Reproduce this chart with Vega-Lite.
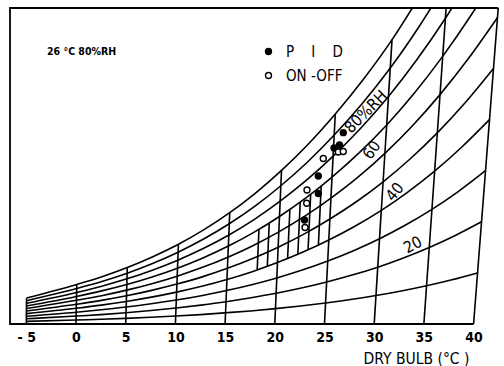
{
  "$schema": "https://vega.github.io/schema/vega-lite/v6.json",
  "width": 492,
  "height": 316,
  "autosize": {"type": "none"},
  "padding": {"left": 10, "top": 8, "right": 2, "bottom": 42},
  "background": "white",
  "config": {"view": {"stroke": null}, "font": "DejaVu Sans"},
  "datasets": {
    "curves": [
      {"c":"100","t":-5,"x":-4.98,"w":2.48},{"c":"100","t":0,"x":0.08,"w":3.78},{"c":"100","t":2.5,"x":2.61,"w":4.52},{"c":"100","t":5,"x":5.16,"w":5.40},{"c":"100","t":7.5,"x":7.73,"w":6.44},{"c":"100","t":10,"x":10.31,"w":7.63},{"c":"100","t":12.5,"x":12.88,"w":9.03},{"c":"100","t":15,"x":15.47,"w":10.65},{"c":"100","t":17.5,"x":18.06,"w":12.53},{"c":"100","t":20,"x":20.68,"w":14.70},{"c":"100","t":22.5,"x":23.36,"w":17.20},{"c":"100","t":25,"x":26.09,"w":20.09},{"c":"100","t":27.5,"x":28.90,"w":23.39},{"c":"100","t":30,"x":31.80,"w":27.21},{"c":"100","t":32.5,"x":34.71,"w":31.58},
      {"c":"90","t":-5,"x":-4.98,"w":2.23},{"c":"90","t":0,"x":0.07,"w":3.40},{"c":"90","t":2.5,"x":2.60,"w":4.07},{"c":"90","t":5,"x":5.15,"w":4.86},{"c":"90","t":7.5,"x":7.70,"w":5.79},{"c":"90","t":10,"x":10.27,"w":6.87},{"c":"90","t":12.5,"x":12.84,"w":8.13},{"c":"90","t":15,"x":15.42,"w":9.59},{"c":"90","t":17.5,"x":18.01,"w":11.28},{"c":"90","t":20,"x":20.61,"w":13.23},{"c":"90","t":22.5,"x":23.27,"w":15.48},{"c":"90","t":25,"x":25.98,"w":18.08},{"c":"90","t":27.5,"x":28.76,"w":21.05},{"c":"90","t":30,"x":31.62,"w":24.49},{"c":"90","t":32.5,"x":34.49,"w":28.42},{"c":"90","t":35,"x":37.44,"w":32.92},
      {"c":"80","t":-5,"x":-4.98,"w":1.98},{"c":"80","t":0,"x":0.06,"w":3.02},{"c":"80","t":2.5,"x":2.59,"w":3.62},{"c":"80","t":5,"x":5.13,"w":4.32},{"c":"80","t":7.5,"x":7.68,"w":5.15},{"c":"80","t":10,"x":10.24,"w":6.11},{"c":"80","t":12.5,"x":12.80,"w":7.22},{"c":"80","t":15,"x":15.38,"w":8.52},{"c":"80","t":17.5,"x":17.95,"w":10.02},{"c":"80","t":20,"x":20.54,"w":11.76},{"c":"80","t":22.5,"x":23.19,"w":13.76},{"c":"80","t":25,"x":25.87,"w":16.07},{"c":"80","t":27.5,"x":28.62,"w":18.71},{"c":"80","t":30,"x":31.44,"w":21.77},{"c":"80","t":32.5,"x":34.27,"w":25.26},{"c":"80","t":35,"x":37.17,"w":29.26},{"c":"80","t":37.5,"x":40.14,"w":33.87},
      {"c":"70","t":-5,"x":-4.98,"w":1.73},{"c":"70","t":0,"x":0.05,"w":2.64},{"c":"70","t":2.5,"x":2.58,"w":3.17},{"c":"70","t":5,"x":5.11,"w":3.78},{"c":"70","t":7.5,"x":7.66,"w":4.50},{"c":"70","t":10,"x":10.21,"w":5.34},{"c":"70","t":12.5,"x":12.77,"w":6.32},{"c":"70","t":15,"x":15.33,"w":7.46},{"c":"70","t":17.5,"x":17.89,"w":8.77},{"c":"70","t":20,"x":20.47,"w":10.29},{"c":"70","t":22.5,"x":23.10,"w":12.04},{"c":"70","t":25,"x":25.76,"w":14.06},{"c":"70","t":27.5,"x":28.48,"w":16.37},{"c":"70","t":30,"x":31.26,"w":19.05},{"c":"70","t":32.5,"x":34.05,"w":22.11},{"c":"70","t":35,"x":36.89,"w":25.61},{"c":"70","t":37.5,"x":39.81,"w":29.64},{"c":"70","t":40,"x":42.81,"w":34.22},
      {"c":"60","t":-5,"x":-4.99,"w":1.49},{"c":"60","t":0,"x":0.05,"w":2.27},{"c":"60","t":2.5,"x":2.57,"w":2.71},{"c":"60","t":5,"x":5.10,"w":3.24},{"c":"60","t":7.5,"x":7.64,"w":3.86},{"c":"60","t":10,"x":10.18,"w":4.58},{"c":"60","t":12.5,"x":12.73,"w":5.42},{"c":"60","t":15,"x":15.28,"w":6.39},{"c":"60","t":17.5,"x":17.84,"w":7.52},{"c":"60","t":20,"x":20.41,"w":8.82},{"c":"60","t":22.5,"x":23.02,"w":10.32},{"c":"60","t":25,"x":25.65,"w":12.05},{"c":"60","t":27.5,"x":28.34,"w":14.03},{"c":"60","t":30,"x":31.08,"w":16.33},{"c":"60","t":32.5,"x":33.83,"w":18.95},{"c":"60","t":35,"x":36.62,"w":21.95},{"c":"60","t":37.5,"x":39.48,"w":25.40},{"c":"60","t":40,"x":42.41,"w":29.33},
      {"c":"50","t":-5,"x":-4.99,"w":1.24},{"c":"50","t":0,"x":0.04,"w":1.89},{"c":"50","t":2.5,"x":2.56,"w":2.26},{"c":"50","t":5,"x":5.08,"w":2.70},{"c":"50","t":7.5,"x":7.61,"w":3.22},{"c":"50","t":10,"x":10.15,"w":3.82},{"c":"50","t":12.5,"x":12.69,"w":4.51},{"c":"50","t":15,"x":15.23,"w":5.33},{"c":"50","t":17.5,"x":17.78,"w":6.27},{"c":"50","t":20,"x":20.34,"w":7.35},{"c":"50","t":22.5,"x":22.93,"w":8.60},{"c":"50","t":25,"x":25.54,"w":10.05},{"c":"50","t":27.5,"x":28.20,"w":11.70},{"c":"50","t":30,"x":30.90,"w":13.61},{"c":"50","t":32.5,"x":33.61,"w":15.79},{"c":"50","t":35,"x":36.35,"w":18.29},{"c":"50","t":37.5,"x":39.15,"w":21.17},{"c":"50","t":40,"x":42.00,"w":24.45},
      {"c":"40","t":-5,"x":-4.99,"w":0.99},{"c":"40","t":0,"x":0.03,"w":1.51},{"c":"40","t":2.5,"x":2.55,"w":1.81},{"c":"40","t":5,"x":5.06,"w":2.16},{"c":"40","t":7.5,"x":7.59,"w":2.57},{"c":"40","t":10,"x":10.12,"w":3.05},{"c":"40","t":12.5,"x":12.65,"w":3.61},{"c":"40","t":15,"x":15.19,"w":4.26},{"c":"40","t":17.5,"x":17.73,"w":5.01},{"c":"40","t":20,"x":20.27,"w":5.88},{"c":"40","t":22.5,"x":22.84,"w":6.88},{"c":"40","t":25,"x":25.43,"w":8.04},{"c":"40","t":27.5,"x":28.06,"w":9.36},{"c":"40","t":30,"x":30.72,"w":10.88},{"c":"40","t":32.5,"x":33.38,"w":12.63},{"c":"40","t":35,"x":36.08,"w":14.63},{"c":"40","t":37.5,"x":38.82,"w":16.94},{"c":"40","t":40,"x":41.60,"w":19.56},
      {"c":"30","t":-5,"x":-4.99,"w":0.74},{"c":"30","t":0,"x":0.02,"w":1.13},{"c":"30","t":2.5,"x":2.53,"w":1.36},{"c":"30","t":5,"x":5.05,"w":1.62},{"c":"30","t":7.5,"x":7.57,"w":1.93},{"c":"30","t":10,"x":10.09,"w":2.29},{"c":"30","t":12.5,"x":12.61,"w":2.71},{"c":"30","t":15,"x":15.14,"w":3.20},{"c":"30","t":17.5,"x":17.67,"w":3.76},{"c":"30","t":20,"x":20.20,"w":4.41},{"c":"30","t":22.5,"x":22.76,"w":5.16},{"c":"30","t":25,"x":25.33,"w":6.03},{"c":"30","t":27.5,"x":27.92,"w":7.02},{"c":"30","t":30,"x":30.54,"w":8.16},{"c":"30","t":32.5,"x":33.16,"w":9.47},{"c":"30","t":35,"x":35.81,"w":10.97},{"c":"30","t":37.5,"x":38.49,"w":12.70},{"c":"30","t":40,"x":41.20,"w":14.67},
      {"c":"20","t":-5,"x":-5.00,"w":0.50},{"c":"20","t":0,"x":0.02,"w":0.76},{"c":"20","t":2.5,"x":2.52,"w":0.90},{"c":"20","t":5,"x":5.03,"w":1.08},{"c":"20","t":7.5,"x":7.55,"w":1.29},{"c":"20","t":10,"x":10.06,"w":1.53},{"c":"20","t":12.5,"x":12.58,"w":1.81},{"c":"20","t":15,"x":15.09,"w":2.13},{"c":"20","t":17.5,"x":17.61,"w":2.51},{"c":"20","t":20,"x":20.14,"w":2.94},{"c":"20","t":22.5,"x":22.67,"w":3.44},{"c":"20","t":25,"x":25.22,"w":4.02},{"c":"20","t":27.5,"x":27.78,"w":4.68},{"c":"20","t":30,"x":30.36,"w":5.44},{"c":"20","t":32.5,"x":32.94,"w":6.32},{"c":"20","t":35,"x":35.54,"w":7.32},{"c":"20","t":37.5,"x":38.16,"w":8.47},{"c":"20","t":40,"x":40.80,"w":9.78},
      {"c":"10","t":-5,"x":-5.00,"w":0.25},{"c":"10","t":0,"x":0.01,"w":0.38},{"c":"10","t":2.5,"x":2.51,"w":0.45},{"c":"10","t":5,"x":5.02,"w":0.54},{"c":"10","t":7.5,"x":7.52,"w":0.64},{"c":"10","t":10,"x":10.03,"w":0.76},{"c":"10","t":12.5,"x":12.54,"w":0.90},{"c":"10","t":15,"x":15.05,"w":1.07},{"c":"10","t":17.5,"x":17.56,"w":1.25},{"c":"10","t":20,"x":20.07,"w":1.47},{"c":"10","t":22.5,"x":22.59,"w":1.72},{"c":"10","t":25,"x":25.11,"w":2.01},{"c":"10","t":27.5,"x":27.64,"w":2.34},{"c":"10","t":30,"x":30.18,"w":2.72},{"c":"10","t":32.5,"x":32.72,"w":3.16},{"c":"10","t":35,"x":35.27,"w":3.66},{"c":"10","t":37.5,"x":37.83,"w":4.23},{"c":"10","t":40,"x":40.40,"w":4.89},
      {"c":"db-5","t":0,"x":-5,"w":0},{"c":"db-5","t":1,"x":-4.975,"w":2.475},
      {"c":"db0","t":0,"x":0,"w":0},{"c":"db0","t":1,"x":0.076,"w":3.775},
      {"c":"db5","t":0,"x":5,"w":0},{"c":"db5","t":1,"x":5.162,"w":5.403},
      {"c":"db10","t":0,"x":10,"w":0},{"c":"db10","t":1,"x":10.305,"w":7.632},
      {"c":"db15","t":0,"x":15,"w":0},{"c":"db15","t":1,"x":15.469,"w":10.65},
      {"c":"db20","t":0,"x":20,"w":0},{"c":"db20","t":1,"x":20.676,"w":14.70},
      {"c":"db25","t":0,"x":25,"w":0},{"c":"db25","t":1,"x":26.085,"w":20.09},
      {"c":"db30","t":0,"x":30,"w":0},{"c":"db30","t":1,"x":31.796,"w":27.21},
      {"c":"db35","t":0,"x":35,"w":0},{"c":"db35","t":1,"x":37.707,"w":36.58},
      {"c":"db40","t":0,"x":40,"w":0},{"c":"db40","t":1,"x":44.009,"w":48.89},
      {"c":"g18","t":0,"x":18.23,"w":5.18},{"c":"g18","t":1,"x":18.41,"w":9.06},
      {"c":"g19","t":0,"x":19.25,"w":5.52},{"c":"g19","t":1,"x":19.44,"w":9.65},
      {"c":"g21","t":0,"x":21.29,"w":6.26},{"c":"g21","t":1,"x":21.52,"w":10.96},
      {"c":"g22","t":0,"x":22.32,"w":6.67},{"c":"g22","t":1,"x":22.56,"w":11.68},
      {"c":"g23","t":0,"x":23.35,"w":7.10},{"c":"g23","t":1,"x":23.61,"w":12.43},
      {"c":"g24","t":0,"x":24.39,"w":7.55},{"c":"g24","t":1,"x":24.67,"w":13.22}
    ],
    "frame": [
      {"o":0,"x":40,"w":0},{"o":1,"x":-6.64,"w":0},{"o":2,"x":-6.64,"w":30.24},{"o":3,"x":42.48,"w":30.24}
    ],
    "obs": [
      {"ctrl":"PID","x":22.99,"w":9.95},{"ctrl":"PID","x":24.38,"w":12.49},{"ctrl":"PID","x":24.38,"w":14.16},{"ctrl":"PID","x":25.96,"w":16.84},{"ctrl":"PID","x":26.51,"w":17.13},{"ctrl":"PID","x":26.89,"w":18.31},
      {"ctrl":"ON-OFF","x":23.04,"w":9.23},{"ctrl":"ON-OFF","x":23.21,"w":11.55},{"ctrl":"ON-OFF","x":23.24,"w":12.82},{"ctrl":"ON-OFF","x":24.88,"w":15.84},{"ctrl":"ON-OFF","x":26.39,"w":16.46},{"ctrl":"ON-OFF","x":26.89,"w":16.51}
    ]
  },
  "encoding": {
    "x": {"field": "x", "type": "quantitative",
      "scale": {"domain": [-6.64, 42.86], "nice": false, "zero": false},
      "axis": {"values": [-5,0,5,10,15,20,25,30,35,40], "ticks": false, "domain": false, "grid": false,
        "labelExpr": "datum.value < 0 ? '- 5' : datum.label",
        "labelFont": "DejaVu Sans Condensed, DejaVu Sans", "labelFontSize": 14, "labelFontWeight": "bold", "labelColor": "black", "labelPadding": 6, "labelFlush": false,
        "title": "DRY BULB (°C )", "titleFont": "DejaVu Sans Condensed, DejaVu Sans", "titleFontSize": 15.5, "titleFontWeight": "normal", "titleColor": "black",
        "titleX": 406, "titleY": 34, "titleAlign": "center", "titleBaseline": "middle", "titleAnchor": null}},
    "y": {"field": "w", "type": "quantitative", "scale": {"domain": [0, 30.24], "nice": false}, "axis": null}
  },
  "layer": [
    {"data": {"name": "curves"},
     "mark": {"type": "line", "stroke": "black", "strokeWidth": 1.6, "interpolate": "monotone", "clip": true},
     "encoding": {"detail": {"field": "c", "type": "nominal"}, "order": {"field": "t", "type": "quantitative"}}},
    {"data": {"name": "frame"},
     "mark": {"type": "line", "stroke": "black", "strokeWidth": 1.8, "clip": false},
     "encoding": {"order": {"field": "o", "type": "quantitative"}}},
    {"data": {"name": "obs"},
     "mark": {"type": "point", "shape": "circle", "filled": true, "size": 36, "stroke": "black", "strokeWidth": 1.4, "opacity": 1},
     "encoding": {"fill": {"field": "ctrl", "type": "nominal",
        "scale": {"domain": ["PID", "ON-OFF"], "range": ["black", "white"]},
        "legend": {"orient": "none", "legendX": 251, "legendY": 36, "title": null, "padding": 0,
          "labelFont": "DejaVu Sans Condensed, DejaVu Sans", "labelFontSize": 15, "labelColor": "black",
          "labelOffset": 10, "rowPadding": 8, "symbolType": "circle", "symbolSize": 36,
          "symbolStrokeColor": "black", "symbolStrokeWidth": 1.4,
          "labelExpr": "datum.value == 'PID' ? 'P\u00a0\u00a0\u00a0\u00a0I\u00a0\u00a0\u00a0\u00a0D' : 'ON -OFF'"}}}},
    {"data": {"values": [{"x": -2.92, "w": 26.0, "label": "26 °C  80%RH"}]},
     "mark": {"type": "text", "align": "left", "baseline": "middle", "fontSize": 10.5, "fontWeight": "bold", "font": "DejaVu Sans Condensed, DejaVu Sans", "color": "black"},
     "encoding": {"text": {"field": "label"}}},
    {"data": {"values": [{"x": 29.18, "w": 20.3, "label": "80%RH"}]},
     "mark": {"type": "text", "align": "center", "baseline": "middle", "angle": -45, "fontSize": 16, "font": "DejaVu Sans Condensed, DejaVu Sans", "color": "black"},
     "encoding": {"text": {"field": "label"}}},
    {"data": {"values": [{"x": 29.78, "w": 16.65, "label": "60"}]},
     "mark": {"type": "text", "align": "center", "baseline": "middle", "angle": -55, "fontSize": 16, "font": "DejaVu Sans Condensed, DejaVu Sans", "color": "black"},
     "encoding": {"text": {"field": "label"}}},
    {"data": {"values": [{"x": 32.09, "w": 12.63, "label": "40"}]},
     "mark": {"type": "text", "align": "center", "baseline": "middle", "angle": -50, "fontSize": 16, "font": "DejaVu Sans Condensed, DejaVu Sans", "color": "black"},
     "encoding": {"text": {"field": "label"}}},
    {"data": {"values": [{"x": 33.9, "w": 7.56, "label": "20"}]},
     "mark": {"type": "text", "align": "center", "baseline": "middle", "angle": -28, "fontSize": 16, "font": "DejaVu Sans Condensed, DejaVu Sans", "color": "black"},
     "encoding": {"text": {"field": "label"}}}
  ]
}
